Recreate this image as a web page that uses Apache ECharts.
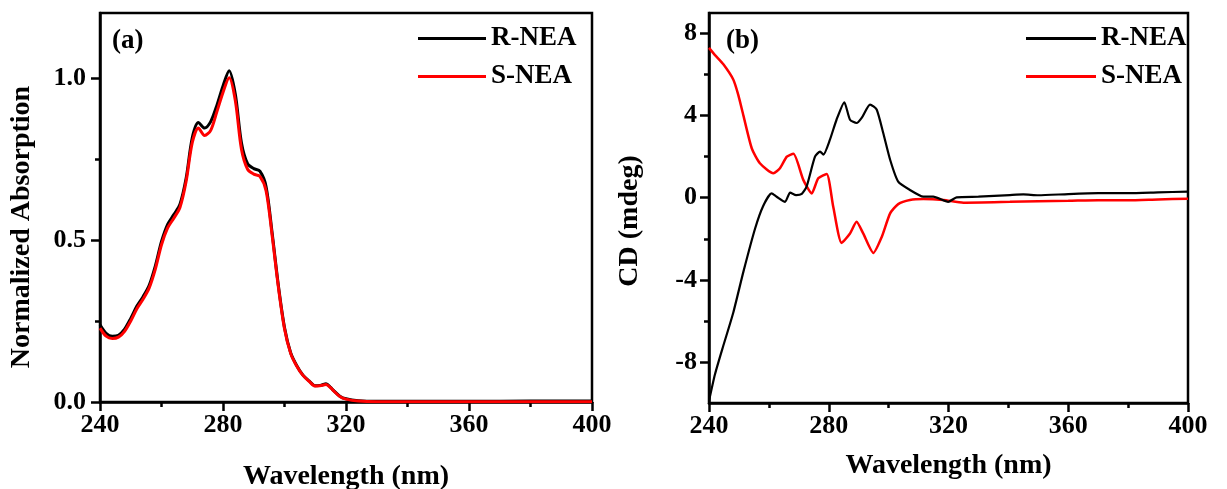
<!DOCTYPE html>
<html>
<head>
<meta charset="utf-8">
<script src="https://cdn.jsdelivr.net/npm/echarts@6/dist/echarts.min.js"></script>
<style>html,body{margin:0;padding:0;background:#fff;}#c{width:1227px;height:489px;}</style>
</head>
<body>
<div id="c"></div>
<script>
// ---- Panel (a): normalized absorption ----
const absWavelength = [240,242,244,246,248,250,252,254,256,258,260,262,264,266,268,270,272,274,276,278,280,282,284,286,288,290,292,294,296,298,300,302,304,306,308,310,312,313.5,315,316,318,320,324,330,340,360,380,400];
const absR = [0.238,0.212,0.203,0.206,0.225,0.258,0.296,0.325,0.360,0.420,0.495,0.548,0.578,0.610,0.690,0.815,0.862,0.845,0.865,0.915,0.975,1.022,0.950,0.800,0.735,0.720,0.712,0.665,0.520,0.360,0.230,0.152,0.112,0.083,0.065,0.050,0.052,0.056,0.045,0.035,0.018,0.010,0.004,0.002,0.002,0.002,0.003,0.003];
const absS = [0.228,0.203,0.196,0.200,0.218,0.250,0.288,0.317,0.352,0.410,0.485,0.537,0.567,0.600,0.680,0.800,0.845,0.822,0.838,0.895,0.955,1.000,0.930,0.780,0.718,0.703,0.696,0.652,0.512,0.355,0.226,0.150,0.110,0.082,0.064,0.049,0.051,0.054,0.044,0.034,0.017,0.009,0.003,0.001,0.001,0.001,0.001,0.001];

// ---- Panel (b): CD ----
const cdWavelengthR = [240,242,244.8,248.1,251.5,255.4,258.1,260.9,262.6,265.4,267.1,269.1,271,272.6,275.4,277.1,278.2,280.4,282.6,285.2,287.1,289.3,291,293.8,296,298.2,300.5,303.2,307.1,311.6,314.9,319.9,322.7,330,340.5,345,350,360,370,380,390,400];
const cdR = [-9.9,-8.6,-7.2,-5.6,-3.6,-1.5,-0.4,0.21,0.05,-0.2,0.25,0.13,0.19,0.54,2.0,2.25,2.1,2.83,3.8,4.65,3.8,3.64,3.89,4.54,4.3,3.15,1.85,0.78,0.38,0.05,0.05,-0.2,0.02,0.05,0.13,0.16,0.12,0.18,0.22,0.22,0.26,0.3];
const cdWavelengthS = [240,242,244.8,248.1,249.8,251.5,254.3,257,261.5,263.7,266,268.2,271.5,274.3,276.5,279.3,281.5,284.3,287.1,289.3,291.5,294.9,297.7,300.5,303.2,307.1,311.6,318.3,325,340.5,350,360,370,380,390,400];
const cdS = [7.3,6.95,6.5,5.76,5.0,4.0,2.4,1.68,1.19,1.44,2.0,2.14,0.87,0.21,0.95,1.16,-0.44,-2.2,-1.74,-1.17,-1.74,-2.69,-1.91,-0.76,-0.31,-0.11,-0.06,-0.11,-0.24,-0.2,-0.17,-0.15,-0.12,-0.12,-0.08,-0.05];

const seriesNames = ['R-NEA','S-NEA'];
const seriesColors = ['#000000','#ff0000'];
const xMajorTicks = [240,280,320,360,400];
const xMinorTicks = [260,300,340,380];
const absYMajor = [0,0.5,1.0];
const absYMinor = [0.25,0.75];
const cdYMajor = [-8,-4,0,4,8];
const cdYMinor = [-6,-2,2,6];

const FONT = 'Liberation Serif';
function zip(xs, ys){ return xs.map((x,i)=>[x, ys[i]]); }

const axisLine = {show:true, onZero:false, lineStyle:{color:'#000', width:2.5}};
const tickLabel = {color:'#000', fontFamily:FONT, fontWeight:'bold', fontSize:26};
const nameStyle = {color:'#000', fontFamily:FONT, fontWeight:'bold', fontSize:28};

function mainX(gi, gap){
  return {
    type:'value', gridIndex:gi, min:240, max:400, position:'bottom',
    axisLine: axisLine,
    axisTick:{show:true, length:9, lineStyle:{color:'#000', width:2.5}, customValues:xMajorTicks},
    axisLabel:Object.assign({margin:10, customValues:xMajorTicks}, tickLabel),
    splitLine:{show:false},
    name:'Wavelength (nm)', nameLocation:'middle', nameGap:gap, nameTextStyle:nameStyle
  };
}
function minorX(gi){
  return {
    type:'value', gridIndex:gi, min:240, max:400, position:'bottom',
    axisLine:{show:false, onZero:false},
    axisTick:{show:true, length:5, lineStyle:{color:'#000', width:2.5}, customValues:xMinorTicks},
    axisLabel:{show:false}, splitLine:{show:false}
  };
}
function mainY(gi, min, max, major, fmt, margin){
  return {
    type:'value', gridIndex:gi, min:min, max:max, position:'left',
    axisLine:axisLine,
    axisTick:{show:true, length:9, lineStyle:{color:'#000', width:2.5}, customValues:major},
    axisLabel:Object.assign({margin:margin, customValues:major, formatter:fmt}, tickLabel),
    splitLine:{show:false}
  };
}
function minorY(gi, min, max, minor){
  return {
    type:'value', gridIndex:gi, min:min, max:max, position:'left',
    axisLine:{show:false, onZero:false},
    axisTick:{show:true, length:5, lineStyle:{color:'#000', width:2.5}, customValues:minor},
    axisLabel:{show:false}, splitLine:{show:false}
  };
}

const legendText = {color:'#000', fontFamily:FONT, fontWeight:'bold', fontSize:27, lineHeight:26};

const chart = echarts.init(document.getElementById('c'), null, {renderer:'canvas'});
chart.setOption({
  animation:false,
  backgroundColor:'#fff',
  grid:[
    {left:100, top:13, width:492, height:389, outerBoundsMode:'none', containLabel:false, show:true, borderColor:'#000', borderWidth:2.5, backgroundColor:'transparent'},
    {left:709, top:13, width:479, height:390, outerBoundsMode:'none', containLabel:false, show:true, borderColor:'#000', borderWidth:2.5, backgroundColor:'transparent'}
  ],
  xAxis:[ mainX(0, 61), mainX(1, 49), minorX(0), minorX(1) ],
  yAxis:[
    mainY(0, 0, 1.2, absYMajor, v=>v.toFixed(1), 14),
    mainY(1, -10, 9, cdYMajor, v=>String(v), 12),
    minorY(0, 0, 1.2, absYMinor),
    minorY(1, -10, 9, cdYMinor)
  ],
  legend:[
    {data:seriesNames, left:413, top:20, orient:'vertical', icon:'rect', itemWidth:68, itemHeight:3, itemGap:11,
     textStyle:legendText},
    {data:seriesNames, left:1021, top:20, orient:'vertical', icon:'rect', itemWidth:70, itemHeight:3, itemGap:11,
     textStyle:legendText}
  ],
  graphic:[
    {type:'text', x:22, y:227, rotation:Math.PI/2, style:{text:'Normalized Absorption', fill:'#000', font:'bold 28px "Liberation Serif"', textAlign:'center', textVerticalAlign:'middle'}},
    {type:'text', x:630, y:221, rotation:Math.PI/2, style:{text:'CD (mdeg)', fill:'#000', font:'bold 28px "Liberation Serif"', textAlign:'center', textVerticalAlign:'middle'}},
    {type:'text', x:112, y:41, style:{text:'(a)', fill:'#000', font:'bold 27px "Liberation Serif"', textAlign:'left', textVerticalAlign:'middle'}},
    {type:'text', x:726, y:41, style:{text:'(b)', fill:'#000', font:'bold 27px "Liberation Serif"', textAlign:'left', textVerticalAlign:'middle'}}
  ],
  series:[
    {name:seriesNames[0], type:'line', xAxisIndex:0, yAxisIndex:0, data:zip(absWavelength, absR), showSymbol:false, smooth:0.3,
     lineStyle:{color:seriesColors[0], width:3}, itemStyle:{color:seriesColors[0]}, z:2},
    {name:seriesNames[1], type:'line', xAxisIndex:0, yAxisIndex:0, data:zip(absWavelength, absS), showSymbol:false, smooth:0.3,
     lineStyle:{color:seriesColors[1], width:3}, itemStyle:{color:seriesColors[1]}, z:3},
    {name:seriesNames[0], type:'line', xAxisIndex:1, yAxisIndex:1, data:zip(cdWavelengthR, cdR), showSymbol:false, smooth:0.2,
     lineStyle:{color:seriesColors[0], width:2.2}, itemStyle:{color:seriesColors[0]}, z:3},
    {name:seriesNames[1], type:'line', xAxisIndex:1, yAxisIndex:1, data:zip(cdWavelengthS, cdS), showSymbol:false, smooth:0.2,
     lineStyle:{color:seriesColors[1], width:2.5}, itemStyle:{color:seriesColors[1]}, z:2}
  ]
});
</script>
</body>
</html>
